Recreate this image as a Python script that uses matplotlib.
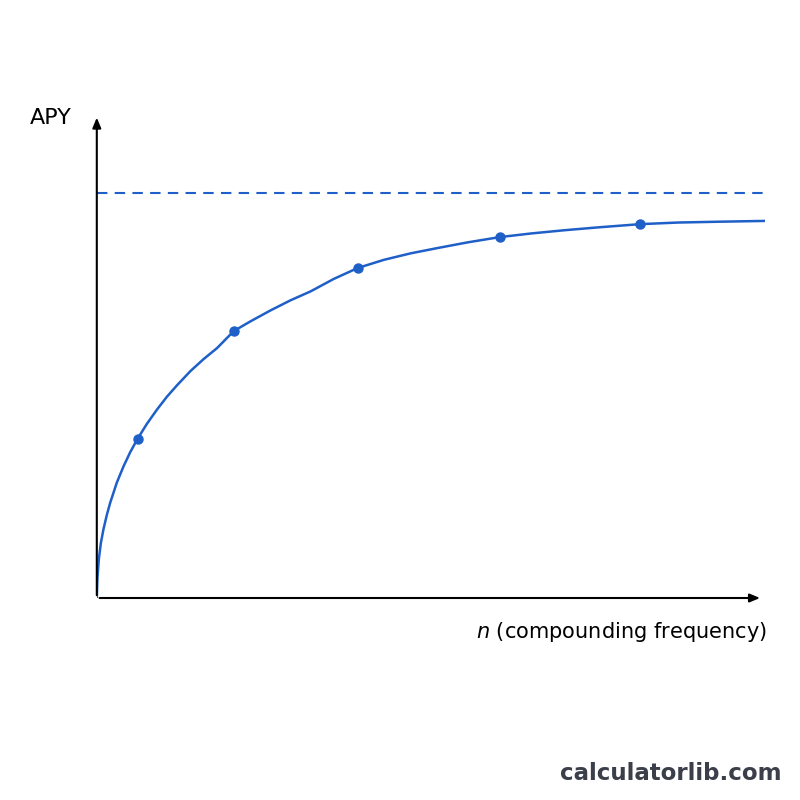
import matplotlib
matplotlib.use("Agg")
import matplotlib.pyplot as plt

# curve samples (x in arbitrary n units, y as fraction of the limit)
curve_x = [0, 0.01, 0.03, 0.06, 0.1, 0.15, 0.2, 0.3, 0.4, 0.5, 0.61, 0.75, 0.9, 1.05, 1.2, 1.4,
           1.6, 1.8, 2.05, 2.3, 2.6, 2.9, 3.2, 3.55, 3.91, 4.3, 4.7, 5.1, 5.55, 6.03, 6.5,
           7.0, 7.5, 8.13, 8.7, 9.3, 10.0]
curve_y = [0, 0.05, 0.095, 0.135, 0.17, 0.205, 0.235, 0.285, 0.325, 0.36, 0.393, 0.43, 0.465,
           0.497, 0.525, 0.56, 0.59, 0.617, 0.659, 0.683, 0.71, 0.735, 0.757, 0.788, 0.815,
           0.835, 0.851, 0.864, 0.878, 0.891, 0.9, 0.908, 0.915, 0.923, 0.927, 0.929, 0.931]
pts_x = [0.61, 2.05, 3.91, 6.03, 8.13]
pts_y = [0.393, 0.659, 0.815, 0.891, 0.923]
limit_y = 1.0

blue = "#1f5fc8"
fig = plt.figure(figsize=(8, 8), dpi=100)
ax = fig.add_axes([0.121, 0.2525, 0.835, 0.604])
ax.set_xlim(0, 10)
ax.set_ylim(0, 1.193)
for s in ax.spines.values():
    s.set_visible(False)
ax.set_xticks([])
ax.set_yticks([])

ax.axhline(limit_y, color=blue, ls=(0, (5, 3.5)), lw=1.5)
ax.plot(curve_x, curve_y, color=blue, lw=1.8)
ax.plot(pts_x, pts_y, "o", color=blue, ms=6.5)

arrow = dict(arrowstyle="-|>,head_length=0.6,head_width=0.25", color="black", lw=1.5)
ax.annotate("", xy=(0.997, 0), xytext=(0, 0), xycoords="axes fraction", arrowprops=arrow)
ax.annotate("", xy=(0, 1.0), xytext=(0, 0), xycoords="axes fraction", arrowprops=arrow)

fig.text(0.037, 0.853, "APY", fontsize=16, va="center", ha="left")
fig.text(0.958, 0.21, "$n$ (compounding frequency)", fontsize=15, ha="right", va="center")
fig.text(0.977, 0.033, "calculatorlib.com", fontsize=16.5, fontweight="bold",
         color="#3a3f4a", ha="right", va="center")

fig.savefig("out.png", dpi=100, facecolor="white")
